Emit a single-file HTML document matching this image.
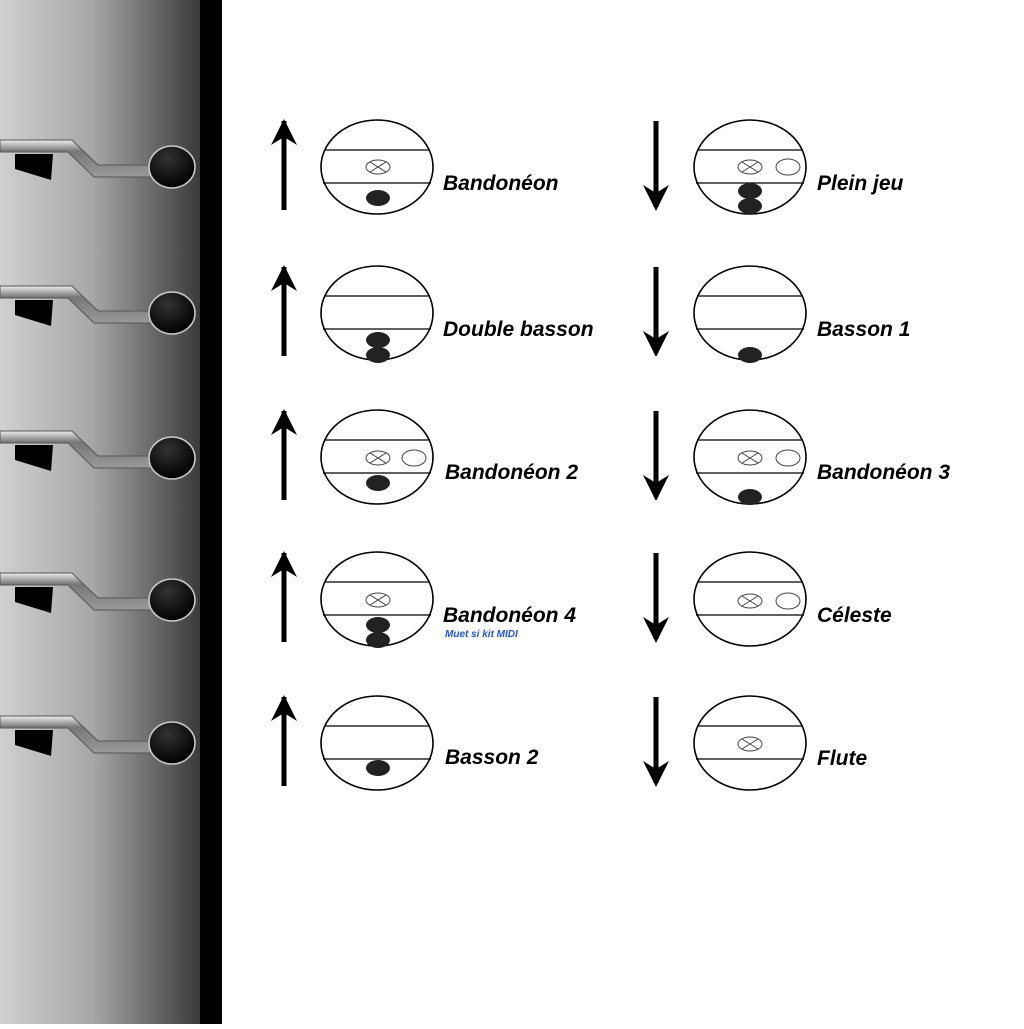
<!DOCTYPE html><html><head><style>body{margin:0;background:#fff}svg text{font-family:"Liberation Sans",sans-serif;font-weight:bold;font-style:italic}</style></head><body>
<svg width="1024" height="1024" viewBox="0 0 1024 1024" xmlns="http://www.w3.org/2000/svg">
<defs>
<linearGradient id="g" x1="0" x2="1"><stop offset="0" stop-color="#d0d0d0"/><stop offset="0.45" stop-color="#a8a8a8"/><stop offset="1" stop-color="#383838"/></linearGradient>
<linearGradient id="bar" x1="0" y1="0" x2="0" y2="1"><stop offset="0" stop-color="#eee"/><stop offset="0.3" stop-color="#777"/><stop offset="1" stop-color="#999"/></linearGradient>
<radialGradient id="kn" cx="0.4" cy="0.3" r="0.7"><stop offset="0" stop-color="#333"/><stop offset="1" stop-color="#000"/></radialGradient>
<g id="lever">
<path d="M0,-27 L72,-27 L98,-2 L160,-2 L160,10 L94,10 L68,-15 L0,-15 Z" fill="url(#bar)" stroke="#555" stroke-width="1"/>
<path d="M15,-13 L53,-13 L51,13 L15,2 Z" fill="#000"/>
<ellipse cx="172" cy="0" rx="23" ry="21" fill="url(#kn)" stroke="#ccc" stroke-width="1.5"/>
</g>
<g id="up"><line x1="0" y1="-46" x2="0" y2="43" stroke="#000" stroke-width="5"/><path d="M-13,-22 L0,-48 L13,-22 L0,-30 Z" fill="#000"/></g>
<g id="dn"><line x1="0" y1="-46" x2="0" y2="40" stroke="#000" stroke-width="5"/><path d="M-13,18 L0,44 L13,18 L0,26 Z" fill="#000"/></g>
<g id="circ"><ellipse cx="0" cy="0" rx="56" ry="47" fill="#fff" stroke="#000" stroke-width="1.6"/><line x1="-53" y1="-17" x2="53" y2="-17" stroke="#000" stroke-width="1.3"/><line x1="-54" y1="16" x2="54" y2="16" stroke="#000" stroke-width="1.3"/></g>
<g id="xo"><ellipse cx="0" cy="0" rx="12" ry="7" fill="none" stroke="#444" stroke-width="1"/><line x1="-8" y1="-5" x2="8" y2="5" stroke="#444"/><line x1="-8" y1="5" x2="8" y2="-5" stroke="#444"/></g>
<g id="ov"><ellipse cx="0" cy="0" rx="12" ry="8" fill="none" stroke="#444" stroke-width="1"/></g>
<ellipse id="dot" cx="0" cy="0" rx="12" ry="8" fill="#222"/>
</defs>
<rect x="0" y="0" width="202" height="1024" fill="url(#g)"/>
<rect x="200" y="0" width="22" height="1024" fill="#000"/>
<use href="#lever" y="167"/><use href="#lever" y="313"/><use href="#lever" y="458"/><use href="#lever" y="600"/><use href="#lever" y="743"/>
<use href="#up" x="284" y="167"/><use href="#circ" x="377" y="167"/><use href="#xo" x="378" y="167"/><use href="#dot" x="378" y="198"/>
<text x="443" y="190" font-size="21">Bandonéon</text>
<use href="#up" x="284" y="313"/><use href="#circ" x="377" y="313"/><use href="#dot" x="378" y="340"/><use href="#dot" x="378" y="355"/>
<text x="443" y="336" font-size="21">Double basson</text>
<use href="#up" x="284" y="457"/><use href="#circ" x="377" y="457"/><use href="#xo" x="378" y="458"/><use href="#ov" x="414" y="458"/><use href="#dot" x="378" y="483"/>
<text x="445" y="479" font-size="21">Bandonéon 2</text>
<use href="#up" x="284" y="599"/><use href="#circ" x="377" y="599"/><use href="#xo" x="378" y="600"/><use href="#dot" x="378" y="625"/><use href="#dot" x="378" y="640"/>
<text x="443" y="622" font-size="21">Bandonéon 4</text>
<text x="445" y="637" font-size="10" fill="#2255dd">Muet si kit MIDI</text>
<use href="#up" x="284" y="743"/><use href="#circ" x="377" y="743"/><use href="#dot" x="378" y="768"/>
<text x="445" y="764" font-size="21">Basson 2</text>
<use href="#dn" x="656" y="167"/><use href="#circ" x="750" y="167"/><use href="#xo" x="750" y="167"/><use href="#ov" x="788" y="167"/><use href="#dot" x="750" y="191"/><use href="#dot" x="750" y="206"/>
<text x="817" y="190" font-size="21">Plein jeu</text>
<use href="#dn" x="656" y="313"/><use href="#circ" x="750" y="313"/><use href="#dot" x="750" y="355"/>
<text x="817" y="336" font-size="21">Basson 1</text>
<use href="#dn" x="656" y="457"/><use href="#circ" x="750" y="457"/><use href="#xo" x="750" y="458"/><use href="#ov" x="788" y="458"/><use href="#dot" x="750" y="497"/>
<text x="817" y="479" font-size="21">Bandonéon 3</text>
<use href="#dn" x="656" y="599"/><use href="#circ" x="750" y="599"/><use href="#xo" x="750" y="601"/><use href="#ov" x="788" y="601"/>
<text x="817" y="622" font-size="21">Céleste</text>
<use href="#dn" x="656" y="743"/><use href="#circ" x="750" y="743"/><use href="#xo" x="750" y="744"/>
<text x="817" y="765" font-size="21">Flute</text>
</svg></body></html>
